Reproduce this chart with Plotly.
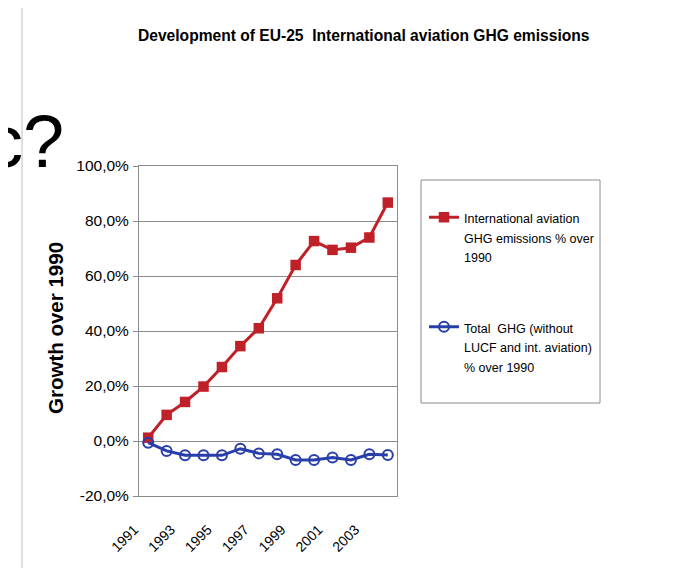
import plotly.graph_objects as go

years = [1991, 1992, 1993, 1994, 1995, 1996, 1997, 1998, 1999, 2000, 2001, 2002, 2003, 2004]
aviation = [1.2, 9.5, 14.2, 19.8, 26.9, 34.5, 41.0, 51.9, 64.0, 72.7, 69.5, 70.3, 74.0, 86.7]
total_ghg = [-0.6, -3.6, -5.2, -5.2, -5.2, -2.8, -4.5, -4.8, -6.9, -6.9, -6.0, -6.9, -4.8, -5.1]
x_tick_labels = ["1991", "1993", "1995", "1997", "1999", "2001", "2003"]
y_ticks = [-20, 0, 20, 40, 60, 80, 100]
y_tick_labels = ["-20,0%", "0,0%", "20,0%", "40,0%", "60,0%", "80,0%", "100,0%"]
name_aviation = ["International aviation", "GHG emissions % over", "1990"]
name_total = ["Total  GHG (without", "LUCF and int. aviation)", "% over 1990"]

# page body has an 8px margin: work in window pixels, convert to figure pixels
OFF = 8
W, H = 693 - OFF, 568 - OFF
L, R, T, B = 139, 397, 166, 496  # plot area, window px


def px(xw):
    return (xw - L) / (R - L)


def py(yw):
    return (B - yw) / (B - T)


FONT = "Liberation Sans, Arial, sans-serif"
RED = "rgb(192,32,40)"
BLUE = "rgb(40,62,170)"
GRID = "rgb(140,140,140)"


def legend_name(lines):
    return "<br>".join('<span style="font-size:12.5px">%s</span>' % s for s in lines)


fig = go.Figure()
fig.add_trace(go.Scatter(
    x=years, y=aviation, name=legend_name(name_aviation), legendgroup="a",
    mode="lines+markers",
    line=dict(color=RED, width=3),
    marker=dict(symbol="square", size=10.5, color=RED),
))
fig.add_trace(go.Scatter(
    x=years, y=total_ghg, name=legend_name(name_total), legendgroup="b",
    mode="lines+markers",
    line=dict(color=BLUE, width=3),
    marker=dict(symbol="circle-open", size=10, color=BLUE, line=dict(width=2, color=BLUE)),
))

xr = [years[0] - 0.5, years[-1] + 0.5]
bounds = [years[0] - 0.5 + k for k in range(len(years) + 1)]

fig.update_layout(
    width=W, height=H,
    margin=dict(l=L - OFF, r=W - (R - OFF), t=T - OFF, b=H - (B - OFF), pad=0),
    paper_bgcolor="white", plot_bgcolor="white",
    showlegend=True,
    legend=dict(
        x=px(424), y=py(201), xanchor="left", yanchor="top",
        font=dict(family=FONT, size=15, color="black"),
        bgcolor="rgba(0,0,0,0)", borderwidth=0,
        tracegroupgap=48, traceorder="grouped",
        itemwidth=30, valign="top",
    ),
    xaxis=dict(
        range=xr, tickmode="array",
        tickvals=[int(t) for t in x_tick_labels], ticktext=x_tick_labels,
        tickangle=-45, ticks="", showgrid=False,
        showline=True, linecolor=GRID, linewidth=1, mirror=True,
        tickfont=dict(family=FONT, size=14, color="black"),
        ticklabelshift=-14, ticklabelstandoff=19,
        zeroline=False,
    ),
    xaxis2=dict(
        range=xr, overlaying="x", anchor="free", position=(0 - (-20)) / 120,
        tickmode="array", tickvals=bounds, ticks="outside", ticklen=5, tickcolor=GRID,
        showticklabels=False, showgrid=False, showline=True, linecolor=GRID, linewidth=1,
        zeroline=False,
    ),
    yaxis=dict(
        range=[-20, 100], tickmode="array", tickvals=y_ticks, ticktext=y_tick_labels,
        ticks="outside", ticklen=5, tickcolor=GRID,
        showgrid=True, gridcolor=GRID, gridwidth=1,
        showline=True, linecolor=GRID, linewidth=1, mirror=True,
        tickfont=dict(family=FONT, size=15.5, color="black"),
        ticklabelstandoff=1,
        zeroline=False,
    ),
    shapes=[
        dict(type="rect", xref="paper", yref="paper", x0=px(421), x1=px(600), y0=py(180), y1=py(403),
             line=dict(color="rgb(140,140,140)", width=1)),
        dict(type="line", xref="paper", yref="paper", x0=px(22), x1=px(693), y0=py(5), y1=py(5),
             line=dict(color="rgb(190,190,190)", width=1)),
        dict(type="line", xref="paper", yref="paper", x0=px(22), x1=px(22), y0=py(5), y1=py(568),
             line=dict(color="rgb(190,190,190)", width=1)),
    ],
    annotations=[
        dict(text="<b>Development of EU-25  International aviation GHG emissions</b>",
             xref="paper", yref="paper", x=px(364), y=py(36), xanchor="center", yanchor="middle",
             showarrow=False, font=dict(family=FONT, size=15.6, color="black")),
        dict(text="<b>Growth over 1990</b>", textangle=-90,
             xref="paper", yref="paper", x=px(55), y=py(328), xanchor="center", yanchor="middle",
             showarrow=False, font=dict(family=FONT, size=20.5, color="black")),
        dict(text="c?", xref="paper", yref="paper", x=px(-16), y=py(141), xanchor="left", yanchor="middle",
             showarrow=False, font=dict(family=FONT, size=74, color="black")),
    ],
)
fig.update_traces(cliponaxis=False)

fig.write_html("out.html")
